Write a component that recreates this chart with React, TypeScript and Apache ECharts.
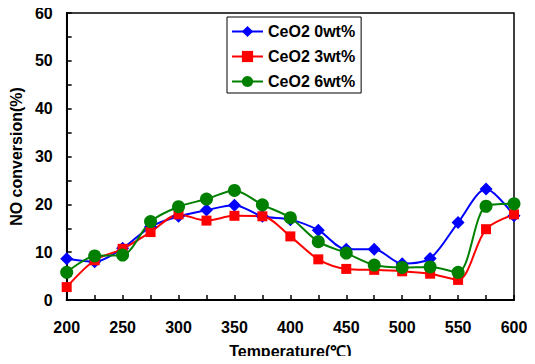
import React, { useEffect, useRef } from "react";
import * as echarts from "echarts";

const temperatures = [200, 225, 250, 275, 300, 325, 350, 375, 400, 425, 450, 475, 500, 525, 550, 575, 600];
const ceo2_0 = [8.6, 8.0, 10.8, 15.3, 17.5, 18.8, 19.8, 17.5, 16.8, 14.6, 10.6, 10.6, 7.6, 8.7, 16.2, 23.2, 17.6];
const ceo2_3 = [2.7, 8.3, 10.7, 14.2, 17.9, 16.6, 17.6, 17.5, 13.3, 8.5, 6.5, 6.3, 6.0, 5.5, 4.2, 14.8, 17.9];
const ceo2_6 = [5.8, 9.2, 9.4, 16.4, 19.5, 21.1, 22.9, 19.9, 17.2, 12.2, 9.8, 7.3, 6.8, 6.9, 5.8, 19.6, 20.1];
const seriesNames = ["CeO2 0wt%", "CeO2 3wt%", "CeO2 6wt%"];

const FONT = "'Liberation Sans', Arial, sans-serif";

export default function App() {
  const ref = useRef<HTMLDivElement>(null);
  useEffect(() => {
    if (!ref.current) return;
    const chart = echarts.init(ref.current, null, { renderer: "svg" });
    const mk = (vals: number[]) => temperatures.map((t, i) => [t, vals[i]]);
    const common = {
      type: "line",
      smooth: 0.3,
      lineStyle: { width: 2 },
      z: 3,
    };
    chart.setOption({
      animation: false,
      backgroundColor: "#fff",
      textStyle: { fontFamily: FONT },
      grid: {
        left: 65,
        top: 13,
        right: 21,
        bottom: 64,
        show: true,
        borderColor: "#000",
        borderWidth: 1.5,
      },
      legend: {
        orient: "vertical",
        left: 227,
        top: 17,
        padding: [6, 6, 3, 4],
        itemGap: 8,
        itemWidth: 31,
        itemHeight: 14,
        backgroundColor: "#fff",
        borderColor: "#000",
        borderWidth: 1,
        borderRadius: 0,
        textStyle: { fontFamily: FONT, fontWeight: "bold", fontSize: 16, lineHeight: 17, color: "#000" },
        data: seriesNames,
      },
      xAxis: {
        type: "value",
        min: 200,
        max: 600,
        interval: 50,
        name: "Temperature(℃)",
        nameLocation: "middle",
        nameGap: 43,
        nameTextStyle: { fontFamily: FONT, fontWeight: "bold", fontSize: 16, color: "#000" },
        axisLine: { lineStyle: { color: "#000", width: 2 } },
        axisTick: { inside: true, length: 5, lineStyle: { color: "#000", width: 1.5 } },
        minorTick: { show: true, splitNumber: 2, length: 5, lineStyle: { color: "#000", width: 1.5 } },
        axisLabel: { margin: 19, fontFamily: FONT, fontWeight: "bold", fontSize: 16, color: "#000" },
        splitLine: { show: false },
      },
      yAxis: {
        type: "value",
        min: 0,
        max: 60,
        interval: 10,
        name: "NO conversion(%)",
        nameLocation: "middle",
        nameGap: 39,
        nameTextStyle: { fontFamily: FONT, fontWeight: "bold", fontSize: 16, color: "#000" },
        axisLine: { show: true, lineStyle: { color: "#000", width: 2 } },
        axisTick: { show: true, inside: true, length: 5, lineStyle: { color: "#000", width: 1.5 } },
        minorTick: { show: true, splitNumber: 2, length: 5, lineStyle: { color: "#000", width: 1.5 } },
        axisLabel: { margin: 14, fontFamily: FONT, fontWeight: "bold", fontSize: 16, color: "#000" },
        splitLine: { show: false },
      },
      series: [
        {
          ...common,
          name: seriesNames[0],
          data: mk(ceo2_0),
          symbol: "diamond",
          symbolSize: 13,
          color: "#0000ff",
        },
        {
          ...common,
          name: seriesNames[1],
          data: mk(ceo2_3),
          symbol: "rect",
          symbolSize: 10,
          color: "#ff0000",
        },
        {
          ...common,
          name: seriesNames[2],
          data: mk(ceo2_6),
          symbol: "circle",
          symbolSize: 13,
          color: "#008000",
        },
      ],
    });
    return () => chart.dispose();
  }, []);
  return <div ref={ref} style={{ width: 535, height: 364, margin: -8 }} />;
}
